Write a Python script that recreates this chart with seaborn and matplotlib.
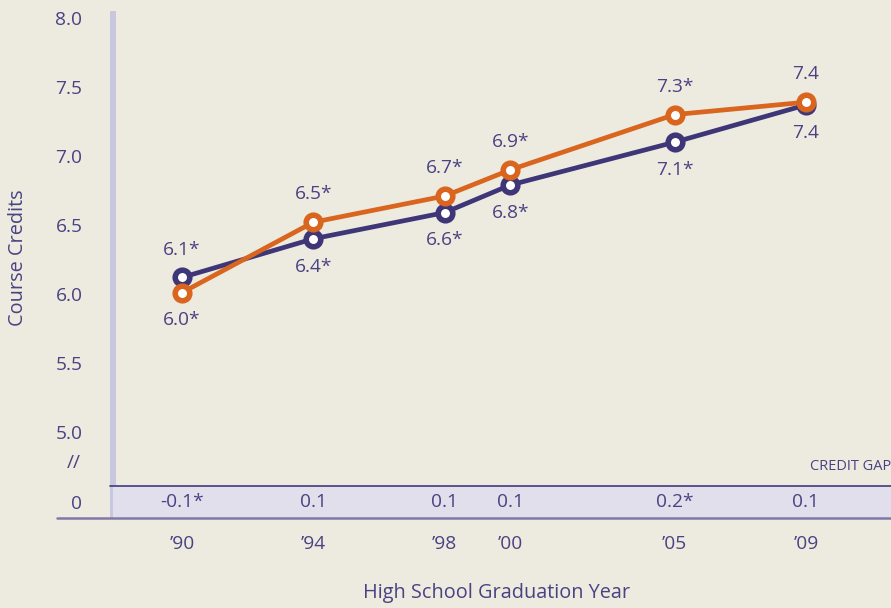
import matplotlib
matplotlib.use("Agg")
import matplotlib.pyplot as plt
import seaborn as sns
import pandas as pd
from matplotlib.patches import Rectangle
from matplotlib.lines import Line2D

# ---- data ----
years = [1990, 1994, 1998, 2000, 2005, 2009]
year_labels = ["\u201990", "\u201994", "\u201998", "\u201900", "\u201905", "\u201909"]
series_a = [6.12, 6.40, 6.59, 6.79, 7.10, 7.37]   # purple
series_b = [6.01, 6.52, 6.71, 6.90, 7.30, 7.39]   # orange
labels_a = ["6.1*", "6.4*", "6.6*", "6.8*", "7.1*", "7.4"]
labels_b = ["6.0*", "6.5*", "6.7*", "6.9*", "7.3*", "7.4"]
gap_labels = ["-0.1*", "0.1", "0.1", "0.1", "0.2*", "0.1"]
ytick_vals = [5.0, 5.5, 6.0, 6.5, 7.0, 7.5, 8.0]

BG = "#EDEBE0"
BAND = "#E1DFEC"
BAR = "#C9C6DF"
TXT = "#4A4282"
PURPLE = "#3F3677"
ORANGE = "#D9651E"
FS = 13.8

sns.set_theme(style="white")
plt.rcParams["font.family"] = ["Open Sans", "DejaVu Sans"]

W, H = 891, 608
fig = plt.figure(figsize=(W / 100, H / 100), dpi=100, facecolor=BG)

def fx(px):
    return px / W

def fy(py):
    return 1 - py / H

# main axes: x from 113 to 891 px, y from 0 to 486 px
ax = fig.add_axes([fx(113), fy(486), fx(W - 113), 486 / H])
ax.set_facecolor("none")

df = pd.DataFrame({
    "year": years * 2,
    "credits": series_a + series_b,
    "group": ["a"] * len(years) + ["b"] * len(years),
})
sns.lineplot(data=df, x="year", y="credits", hue="group",
             palette={"a": PURPLE, "b": ORANGE}, ax=ax, legend=False,
             marker="o", markersize=10.5, markerfacecolor="white",
             markeredgewidth=4.0, linewidth=3.4, sort=False)
for line, c in zip(ax.lines, [PURPLE, ORANGE]):
    line.set_markeredgecolor(c)

ax.set_xlim(1987.9, 2011.59)
ax.set_ylim(4.6087, 8.1304)
ax.set_yticks(ytick_vals)
ax.set_yticklabels([f"{v:.1f}" for v in ytick_vals])
ax.set_xticks([])
ax.tick_params(axis="y", length=0, pad=22, labelsize=FS, labelcolor=TXT)
for s in ax.spines.values():
    s.set_visible(False)
ax.set_xlabel("")
ax.set_ylabel("")

# data labels
for i, (x, y, t) in enumerate(zip(years, series_a, labels_a)):
    off = 20 if i == 0 else -20
    ax.annotate(t, (x, y), xytext=(0, off), textcoords="offset points",
                ha="center", va="center", fontsize=FS, color=TXT)
for i, (x, y, t) in enumerate(zip(years, series_b, labels_b)):
    off = -20 if i == 0 else 20
    ax.annotate(t, (x, y), xytext=(0, off), textcoords="offset points",
                ha="center", va="center", fontsize=FS, color=TXT)

# credit gap band
bx = fig.add_axes([fx(113), fy(518), fx(W - 113), 32 / H])
bx.set_facecolor(BAND)
bx.set_xlim(ax.get_xlim())
bx.set_ylim(-1, 1)
for s in bx.spines.values():
    s.set_visible(False)
bx.set_yticks([0])
bx.set_yticklabels(["0"])
bx.tick_params(axis="y", length=0, pad=22, labelsize=FS, labelcolor=TXT)
bx.set_xticks(years)
bx.set_xticklabels(year_labels)
bx.tick_params(axis="x", length=0, pad=12, labelsize=FS, labelcolor=TXT)
for x, t in zip(years, gap_labels):
    bx.text(x, 0, t, ha="center", va="center", fontsize=FS, color=TXT)

# decorative lines
fig.add_artist(Rectangle((fx(110), fy(518)), fx(6), (518 - 11) / H,
                         transform=fig.transFigure, facecolor=BAR,
                         edgecolor="none", zorder=0))
fig.add_artist(Line2D([fx(110), 1], [fy(486), fy(486)], transform=fig.transFigure,
                      color="#4E4785", linewidth=1.3))
fig.add_artist(Line2D([fx(57), 1], [fy(518), fy(518)], transform=fig.transFigure,
                      color="#7F78A8", linewidth=1.8))

fig.text(fx(81), fy(463), "//", ha="right", va="center", fontsize=FS, color=TXT)
fig.text(fx(810), fy(466), "CREDIT GAP", ha="left", va="center", fontsize=10.5, color=TXT)
fig.text(fx(497), fy(593), "High School Graduation Year", ha="center", va="center",
         fontsize=14.3, color=TXT)
fig.text(fx(18), fy(258), "Course Credits", ha="center", va="center",
         rotation=90, fontsize=14.3, color=TXT)

fig.savefig("out.png", dpi=100, facecolor=BG)
